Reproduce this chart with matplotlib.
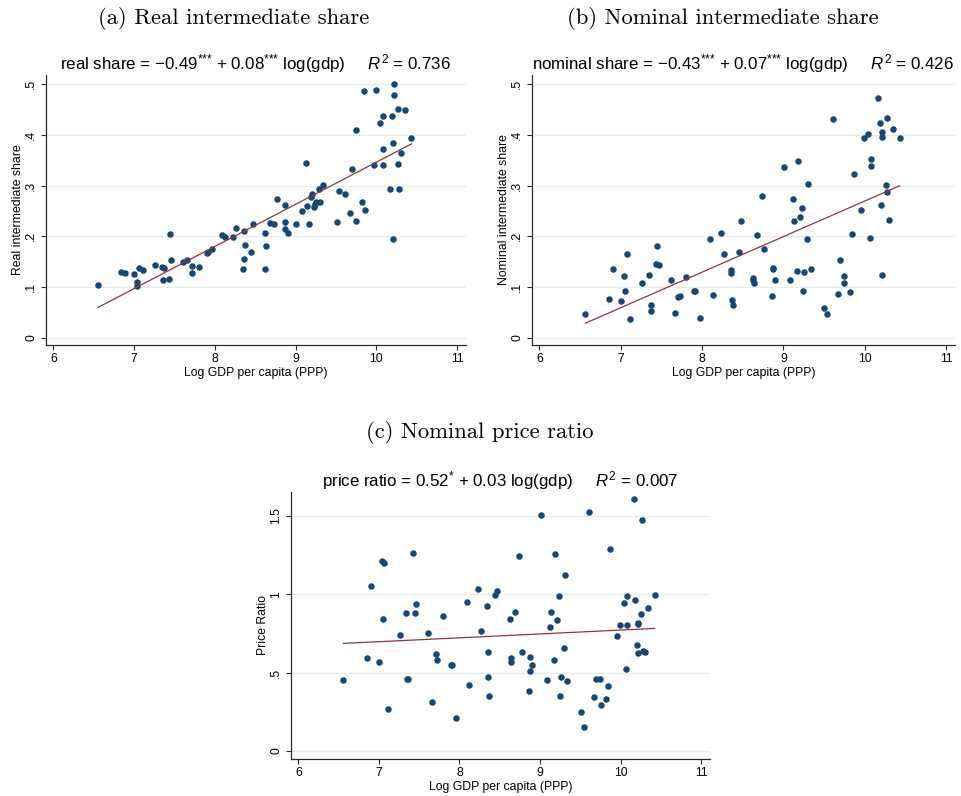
import numpy as np
import matplotlib
matplotlib.use("Agg")
import matplotlib.pyplot as plt

plt.rcParams['font.family'] = ['Liberation Sans', 'DejaVu Sans']
plt.rcParams['mathtext.fontset'] = 'custom'
plt.rcParams['mathtext.rm'] = 'Liberation Sans'
plt.rcParams['mathtext.it'] = 'Liberation Sans:italic'

# ---------------- data ----------------
a_x = [6.554, 6.839, 6.888, 7.000, 7.041, 7.033, 7.062, 7.107, 7.256, 7.343, 7.372, 7.360, 7.434, 7.442, 7.463,
       7.607, 7.661, 7.719, 7.715, 7.802, 7.901, 7.913, 7.967, 8.091, 8.132, 8.227, 8.264, 8.360, 8.376, 8.364,
       8.351, 8.446, 8.471,
       8.616, 8.628, 8.616, 8.678, 8.736, 8.764, 8.864, 8.872, 8.864, 8.901, 9.004, 9.079, 9.124, 9.136, 9.169,
       9.186, 9.202, 9.231, 9.252, 9.244, 9.306, 9.289, 9.335, 9.508, 9.537, 9.616, 9.674, 9.698, 9.748, 9.752,
       9.818, 9.864, 9.847, 9.967, 10.000, 10.045, 10.083, 10.079, 10.087, 10.169, 10.190, 10.211, 10.215, 10.215,
       10.211, 10.269, 10.264, 10.277, 10.310, 10.351, 10.434]
a_y = [0.103, 0.129, 0.128, 0.125, 0.109, 0.101, 0.138, 0.134, 0.144, 0.139, 0.137, 0.114, 0.116, 0.204, 0.154,
       0.150, 0.153, 0.141, 0.128, 0.139, 0.167, 0.169, 0.175, 0.203, 0.199, 0.199, 0.216, 0.211, 0.183, 0.155,
       0.136, 0.168, 0.225,
       0.206, 0.180, 0.136, 0.226, 0.225, 0.273, 0.262, 0.228, 0.214, 0.206, 0.224, 0.250, 0.344, 0.259, 0.224,
       0.278, 0.283, 0.257, 0.268, 0.263, 0.268, 0.293, 0.301, 0.228, 0.290, 0.283, 0.246, 0.332, 0.230, 0.409,
       0.268, 0.251, 0.486, 0.340, 0.489, 0.423, 0.437, 0.372, 0.341, 0.293, 0.438, 0.384, 0.500, 0.478,
       0.195, 0.451, 0.343, 0.294, 0.365, 0.449, 0.394]

b_x = [6.566, 6.852, 6.902, 7.008, 7.041, 7.049, 7.074, 7.115, 7.262, 7.344, 7.373, 7.369, 7.434, 7.447, 7.471,
       7.615, 7.668, 7.710, 7.725, 7.807, 7.902, 7.918, 7.971, 8.098, 8.131, 8.234, 8.270, 8.357, 8.357, 8.365,
       8.381, 8.451, 8.475,
       8.627, 8.627, 8.635, 8.680, 8.738, 8.766, 8.865, 8.869, 8.873, 8.902, 9.004, 9.078, 9.123, 9.135, 9.168,
       9.184, 9.200, 9.230, 9.246, 9.254, 9.287, 9.303, 9.336, 9.500, 9.537, 9.611, 9.668, 9.697, 9.742, 9.750,
       9.816, 9.840, 9.865, 9.955, 9.992, 10.041, 10.070, 10.078, 10.078, 10.168, 10.184, 10.205, 10.213, 10.217,
       10.217, 10.262, 10.270, 10.275, 10.303, 10.348, 10.430]
b_y = [0.047, 0.077, 0.135, 0.072, 0.122, 0.092, 0.166, 0.037, 0.108, 0.124, 0.064, 0.053, 0.146, 0.180, 0.144,
       0.114, 0.049, 0.080, 0.082, 0.120, 0.093, 0.093, 0.039, 0.195, 0.084, 0.207, 0.166, 0.134, 0.127, 0.074,
       0.065, 0.168, 0.230,
       0.118, 0.113, 0.107, 0.202, 0.280, 0.174, 0.082, 0.138, 0.135, 0.114, 0.337, 0.114, 0.274, 0.230, 0.132,
       0.349, 0.238, 0.255, 0.093, 0.129, 0.194, 0.303, 0.136, 0.059, 0.047, 0.431, 0.086, 0.154, 0.107, 0.122,
       0.091, 0.205, 0.323, 0.251, 0.394, 0.401, 0.197, 0.339, 0.352, 0.472, 0.424, 0.261, 0.124, 0.406,
       0.396, 0.301, 0.288, 0.434, 0.232, 0.412, 0.393]

c_x = [6.561, 6.848, 6.898, 7.004, 7.033, 7.049, 7.070, 7.115, 7.258, 7.340, 7.355, 7.368, 7.430, 7.443, 7.463,
       7.607, 7.664, 7.713, 7.717, 7.799, 7.898, 7.910, 7.963, 8.090, 8.123, 8.225, 8.262, 8.348, 8.352, 8.357,
       8.373, 8.439, 8.463,
       8.627, 8.635, 8.635, 8.684, 8.742, 8.775, 8.869, 8.873, 8.877, 8.906, 9.008, 9.082, 9.123, 9.135, 9.172,
       9.189, 9.205, 9.234, 9.246, 9.258, 9.295, 9.307, 9.340, 9.504, 9.541, 9.611, 9.672, 9.697, 9.746, 9.754,
       9.820, 9.840, 9.865, 9.959, 9.996, 10.041, 10.070, 10.078, 10.082, 10.168, 10.180, 10.205, 10.213, 10.213,
       10.213, 10.258, 10.270, 10.275, 10.300, 10.344, 10.422]
c_y = [0.455, 0.594, 1.055, 0.570, 1.213, 0.845, 1.202, 0.268, 0.743, 0.883, 0.460, 0.462, 1.262, 0.883, 0.936,
       0.753, 0.311, 0.621, 0.579, 0.860, 0.551, 0.549, 0.213, 0.953, 0.419, 1.036, 0.764, 0.926, 0.634, 0.472,
       0.349, 0.996, 1.021,
       0.840, 0.591, 0.570, 0.887, 1.243, 0.634, 0.381, 0.511, 0.602, 0.549, 1.504, 0.451, 0.794, 0.889, 0.583,
       1.257, 0.838, 0.989, 0.351, 0.474, 0.657, 1.126, 0.447, 0.249, 0.155, 1.523, 0.343, 0.460, 0.460, 0.296,
       0.332, 0.417, 1.287, 0.736, 0.804, 0.947, 0.526, 0.989, 0.804, 1.611, 0.964, 0.679, 0.819, 0.809,
       0.628, 0.874, 1.472, 0.638, 0.632, 0.913, 0.998]

x_ticks = [6, 7, 8, 9, 10, 11]
share_ticks = [0, 0.1, 0.2, 0.3, 0.4, 0.5]
share_labels = ["0", ".1", ".2", ".3", ".4", ".5"]
ratio_ticks = [0, 0.5, 1, 1.5]
ratio_labels = ["0", ".5", "1", "1.5"]

captions = ["(a) Real intermediate share", "(b) Nominal intermediate share", "(c) Nominal price ratio"]
S3 = r"$^{{*}{*}{*}}$"
S1 = r"$^{{*}}$"
R2 = r"$\mathit{R}^{2}$"
equations = ["real share = −0.49" + S3 + " + 0.08" + S3 + " log(gdp)     " + R2 + " = 0.736",
             "nominal share = −0.43" + S3 + " + 0.07" + S3 + " log(gdp)     " + R2 + " = 0.426",
             "price ratio = 0.52" + S1 + " + 0.03 log(gdp)     " + R2 + " = 0.007"]
ylabels = ["Real intermediate share", "Nominal intermediate share", "Price Ratio"]
xlabel = "Log GDP per capita (PPP)"

# ---------------- style ----------------
W, H = 961, 796
DOT = '#1a476f'
LINE = '#90353b'
GRID = '#e4ecee'
SPINE = '#2a2a2a'

fig = plt.figure(figsize=(W / 100, H / 100), dpi=100)


def px_axes(l, t, r, b):
    return fig.add_axes([l / W, 1 - b / H, (r - l) / W, (b - t) / H])


def draw(ax, x, y, yticks, ylabs, ylim, eq, ylab):
    x = np.asarray(x)
    y = np.asarray(y)
    ax.set_xlim(5.906, 11.11)
    ax.set_ylim(*ylim)
    ax.set_yticks(yticks)
    ax.set_yticklabels(ylabs)
    ax.set_xticks(x_ticks)
    ax.grid(axis='y', color=GRID, linewidth=0.9)
    ax.set_axisbelow(True)
    for s in ['top', 'right']:
        ax.spines[s].set_visible(False)
    for s in ['left', 'bottom']:
        ax.spines[s].set_color(SPINE)
        ax.spines[s].set_linewidth(0.9)
    ax.tick_params(axis='both', length=3.5, width=0.8, color=SPINE, labelsize=8.8, pad=2.5)
    ax.tick_params(axis='y', labelrotation=90)
    for lab in ax.get_yticklabels():
        lab.set_va('center')
    ax.scatter(x, y, s=22, color=DOT, linewidths=0, zorder=3)
    k, c = np.polyfit(x, y, 1)
    xs = np.array([x.min(), x.max()])
    ax.plot(xs, c + k * xs, color=LINE, linewidth=0.9, zorder=4)
    ax.set_title(eq, fontsize=12.2, pad=3)
    ax.set_xlabel(xlabel, fontsize=8.8, labelpad=1.5)
    ax.set_ylabel(ylab, fontsize=8.8, labelpad=1)


ax_a = px_axes(45.7, 75, 466, 345)
draw(ax_a, a_x, a_y, share_ticks, share_labels, (-0.0144, 0.518), equations[0], ylabels[0])
ax_b = px_axes(531.7, 75, 955, 345)
draw(ax_b, b_x, b_y, share_ticks, share_labels, (-0.0144, 0.518), equations[1], ylabels[1])
ax_c = px_axes(290.7, 491.7, 710, 758.7)
draw(ax_c, c_x, c_y, ratio_ticks, ratio_labels, (-0.049, 1.655), equations[2], ylabels[2])

cap_font = dict(family='cmr10', fontsize=16.3, ha='center', va='center')
fig.text(234 / W, 1 - 18 / H, captions[0], **cap_font)
fig.text(723 / W, 1 - 18 / H, captions[1], **cap_font)
fig.text(480 / W, 1 - 433 / H, captions[2], **cap_font)

fig.savefig("out.png", dpi=100, facecolor='white')
